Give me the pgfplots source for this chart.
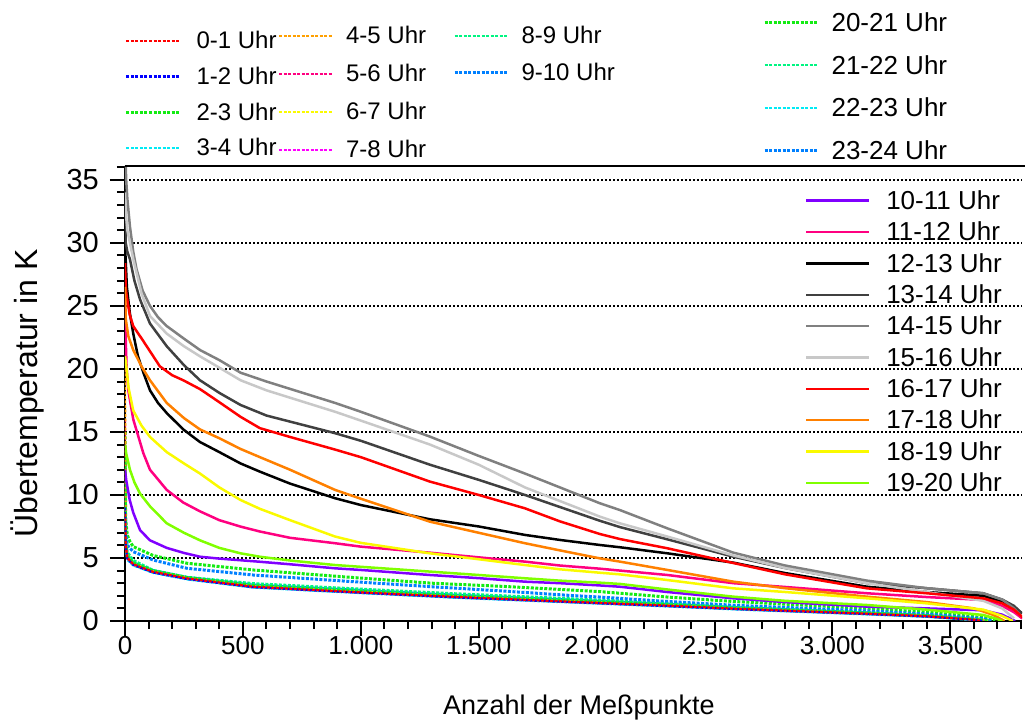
\documentclass[border=0pt]{standalone}
\usepackage{fontspec}
\setmainfont{Liberation Sans}
\usepackage{pgfplots}
\pgfplotsset{compat=1.18}
\definecolor{cRed}{RGB}{255,0,0}
\definecolor{cBlue}{RGB}{0,0,255}
\definecolor{cGreen}{RGB}{20,235,20}
\definecolor{cCyan}{RGB}{0,235,245}
\definecolor{cOrangeD}{RGB}{255,160,0}
\definecolor{cPink}{RGB}{255,0,128}
\definecolor{cYellow}{RGB}{250,250,0}
\definecolor{cMagenta}{RGB}{255,0,255}
\definecolor{cSpring}{RGB}{0,245,130}
\definecolor{cAzure}{RGB}{0,128,255}
\definecolor{cPurple}{RGB}{128,0,255}
\definecolor{cOrange}{RGB}{255,128,0}
\definecolor{cLime}{RGB}{128,255,0}
\definecolor{cGa}{RGB}{64,64,64}
\definecolor{cGb}{RGB}{128,128,128}
\definecolor{cGc}{RGB}{200,200,200}
\tikzset{
  dsh/.style={line width=2.2pt, dash pattern=on 3pt off 1.5pt},
  dshT/.style={line width=3pt, dash pattern=on 3pt off 1.5pt},
  sol/.style={line width=2.5pt}
}
\begin{document}
\begin{tikzpicture}
\path[use as bounding box] (-125pt,-101pt) rectangle (900pt,621pt);
\begin{axis}[name=main, at={(0pt,0pt)}, anchor=south west,
  scale only axis, width=897pt, height=455pt,
  xmin=0, xmax=3804, ymin=0, ymax=36.1,
  axis lines*=left, axis line style={line width=2.7pt, black},
  tick align=outside, tick pos=left,
  major tick length=15pt, minor tick length=8pt,
  tick style={line width=2pt, black},
  xtick={0,500,...,3500}, ytick={0,5,...,35},
  minor xtick={100,200,...,3800}, minor ytick={1,2,...,36},
  scaled ticks=false,
  xticklabel={\pgfmathprintnumber[assume math mode=true,1000 sep={.}]{\tick}},
  yticklabel={\pgfmathprintnumber[assume math mode=true]{\tick}},
  xticklabel style={font=\fontsize{26pt}{28pt}\selectfont, inner sep=0pt, anchor=north},
  yticklabel style={font=\fontsize{29pt}{31pt}\selectfont, inner sep=0pt, anchor=east, xshift=-11pt},
  ymajorgrids, major grid style={black, line width=1.6pt, dash pattern=on 2.2pt off 1.8pt},
  xlabel={Anzahl der Meßpunkte}, ylabel={Übertemperatur in K},
  xlabel style={font=\fontsize{27pt}{29pt}\selectfont, at={(axis description cs:0.506,-0.1912)}, anchor=center},
  ylabel style={font=\fontsize{32pt}{34pt}\selectfont, at={(axis description cs:-0.1093,0.5)}, anchor=center},
  no markers, line join=round,
  legend cell align=left,
  legend style={at={(0.7581,0.946)}, anchor=north west, draw=none, fill=none, inner sep=0pt, outer sep=0pt, row sep=11pt, font=\fontsize{26pt}{28pt}\selectfont, nodes={inner sep=0pt}},
  legend image code/.code={\draw[#1] (0pt,0pt) -- (63pt,0pt); \node[draw=none,fill=none,inner sep=0pt,minimum size=0pt] at (80pt,0pt) {};},
]
% dashed series (drawn first)
\addplot[cAzure, dshT, forget plot] coordinates {(0,10)(3,6.4)(10,5.2)(35,4.6)(119,4.0)(263,3.45)(543,2.85)(967,2.45)(1391,2.05)(1887,1.66)(2300,1.33)(2580,1.07)(3147,0.64)(3400,0.43)(3630,0.1)(3660,0)};
\addplot[cCyan, dsh, forget plot] coordinates {(0,9)(3,6)(10,5.0)(35,4.5)(119,3.88)(263,3.38)(543,2.82)(967,2.42)(1391,2.02)(1887,1.62)(2300,1.3)(2580,1.04)(3147,0.62)(3400,0.42)(3630,0.08)(3660,0)};
\addplot[cSpring, dsh, forget plot] coordinates {(0,10)(3,6.5)(10,5.5)(35,4.84)(119,4.05)(263,3.5)(543,3.0)(967,2.59)(1391,2.2)(1887,1.8)(2300,1.45)(2580,1.15)(3147,0.72)(3400,0.48)(3640,0.12)(3670,0)};
\addplot[cGreen, dshT, forget plot] coordinates {(0,15)(3,8)(10,6.8)(21,6.3)(35,5.9)(119,5.2)(263,4.58)(543,4.05)(967,3.45)(1300,3.0)(1600,2.75)(1887,2.46)(2014,2.33)(2300,1.9)(2580,1.55)(3147,1.0)(3400,0.7)(3650,0.25)(3690,0)};
\addplot[cAzure, dshT, forget plot] coordinates {(0,11)(3,7)(10,6.0)(35,5.5)(119,4.84)(263,4.18)(543,3.65)(967,3.12)(1300,2.72)(1600,2.38)(1887,2.03)(2014,1.9)(2300,1.55)(2580,1.25)(3147,0.8)(3400,0.55)(3640,0.18)(3675,0)};
\addplot[cSpring, dsh, forget plot] coordinates {(0,9.5)(3,6.3)(10,5.3)(35,4.7)(119,3.98)(263,3.45)(543,2.92)(967,2.5)(1391,2.1)(1887,1.72)(2300,1.38)(2580,1.1)(3147,0.68)(3400,0.45)(3630,0.1)(3665,0)};
\addplot[cMagenta, dsh, forget plot] coordinates {(0,14)(3,6.0)(10,4.95)(35,4.45)(119,3.86)(263,3.34)(543,2.69)(967,2.28)(1391,1.89)(1887,1.51)(2300,1.19)(2580,0.96)(3147,0.56)(3400,0.37)(3620,0.1)(3655,0)};
\addplot[cYellow, dsh, forget plot] coordinates {(0,11)(3,6.3)(10,5.1)(35,4.55)(119,3.95)(263,3.42)(543,2.76)(967,2.35)(1391,1.96)(1887,1.57)(2300,1.25)(2580,1.0)(3147,0.6)(3400,0.4)(3625,0.1)(3660,0)};
\addplot[cPink, dsh, forget plot] coordinates {(0,16)(3,6.1)(10,5.05)(35,4.5)(119,3.9)(263,3.37)(543,2.71)(967,2.3)(1391,1.91)(1887,1.52)(2300,1.21)(2580,0.97)(3147,0.57)(3400,0.37)(3615,0.08)(3645,0)};
\addplot[cOrangeD, dsh, forget plot] coordinates {(0,20)(3,6)(10,5.0)(35,4.48)(119,3.88)(263,3.36)(543,2.7)(967,2.29)(1391,1.9)(1887,1.51)(2300,1.2)(2580,0.96)(3147,0.56)(3400,0.36)(3610,0.08)(3640,0)};
\addplot[cCyan, dsh, forget plot] coordinates {(0,8)(3,5.7)(10,4.85)(35,4.4)(119,3.82)(263,3.3)(543,2.65)(967,2.24)(1391,1.85)(1887,1.47)(2300,1.15)(2580,0.92)(3147,0.52)(3400,0.33)(3600,0.06)(3625,0)};
\addplot[cGreen, dshT, forget plot] coordinates {(0,13)(3,6.2)(10,5.1)(35,4.6)(119,3.98)(263,3.45)(543,2.8)(967,2.38)(1391,1.98)(1887,1.6)(2300,1.28)(2580,1.03)(3147,0.62)(3400,0.42)(3620,0.1)(3660,0)};
\addplot[cBlue, dsh, forget plot] coordinates {(0,9)(3,5.9)(10,4.95)(35,4.45)(119,3.85)(263,3.33)(543,2.68)(967,2.27)(1391,1.88)(1887,1.5)(2300,1.18)(2580,0.95)(3147,0.55)(3400,0.35)(3610,0.08)(3640,0)};
\addplot[cRed, dsh, forget plot] coordinates {(0,8.5)(3,6.0)(10,5.0)(35,4.5)(119,3.9)(263,3.38)(543,2.72)(967,2.3)(1391,1.92)(1887,1.53)(2300,1.22)(2580,0.98)(3147,0.58)(3400,0.38)(3600,0.1)(3630,0)};
% solid series
\addplot[cPurple, sol] coordinates {(0,12)(5,11.2)(20,9.6)(35,8.6)(64,7.2)(106,6.4)(177,5.8)(250,5.4)(318,5.1)(400,4.95)(490,4.82)(572,4.7)(700,4.5)(891,4.18)(1000,4.05)(1293,3.65)(1500,3.4)(1696,3.12)(1845,3.0)(2014,2.82)(2099,2.72)(2300,2.3)(2580,1.8)(2800,1.5)(3147,1.14)(3400,1.0)(3640,0.85)(3720,0.5)(3775,0)};
\addlegendentry{10-11 Uhr}
\addplot[cPink, sol] coordinates {(0,26.5)(2,23)(7,20)(14,18.3)(35,16)(78,13.3)(106,12)(177,10.4)(247,9.4)(318,8.7)(400,8.0)(490,7.49)(572,7.1)(700,6.6)(891,6.17)(1000,5.9)(1293,5.42)(1500,5.05)(1696,4.71)(1845,4.4)(2014,4.15)(2099,4.0)(2300,3.65)(2580,3.0)(2800,2.7)(3147,2.2)(3400,1.9)(3640,1.67)(3720,1.2)(3770,0.7)(3805,0.2)};
\addlegendentry{11-12 Uhr}
\addplot[black, sol] coordinates {(0,32.5)(2,29)(8,26.5)(20,24.5)(35,22.8)(55,21)(78,19.7)(106,18.3)(140,17.3)(177,16.5)(247,15.2)(318,14.2)(400,13.4)(490,12.5)(572,11.85)(700,10.9)(891,9.74)(1000,9.2)(1293,8.07)(1500,7.5)(1696,6.83)(1845,6.43)(2014,6.03)(2099,5.85)(2300,5.37)(2580,4.63)(2800,3.8)(3147,2.72)(3400,2.3)(3640,2.0)(3720,1.5)(3770,1.1)(3804,0.6)};
\addlegendentry{12-13 Uhr}
\addplot[cGa, sol] coordinates {(0,33)(3,30)(10,29.3)(21,28.7)(40,27)(64,25.5)(106,23.6)(177,21.8)(250,20.3)(318,19.1)(400,18.1)(490,17.14)(600,16.3)(891,14.9)(1000,14.3)(1293,12.4)(1500,11.2)(1696,10.0)(2014,7.95)(2099,7.45)(2300,6.48)(2580,5.1)(2800,4.2)(3147,3.0)(3400,2.6)(3640,2.2)(3720,1.7)(3770,1.2)(3804,0.6)};
\addlegendentry{13-14 Uhr}
\addplot[cGb, sol] coordinates {(0,38)(5,35)(10,33.5)(21,31.3)(35,29.3)(49,27.9)(75,26.2)(106,25)(140,24.1)(177,23.4)(250,22.4)(318,21.5)(400,20.7)(490,19.7)(600,19.0)(891,17.3)(1000,16.6)(1293,14.63)(1500,13.1)(1696,11.7)(2014,9.34)(2099,8.8)(2300,7.35)(2580,5.42)(2800,4.4)(3147,3.2)(3400,2.6)(3640,2.2)(3720,1.7)(3770,1.0)(3795,0.5)};
\addlegendentry{14-15 Uhr}
\addplot[cGc, sol] coordinates {(0,34)(3,32.5)(10,31)(35,28.7)(70,26)(106,24.2)(177,22.8)(250,21.8)(318,21)(400,20.1)(490,19.1)(600,18.3)(891,16.6)(1000,15.9)(1293,14.0)(1500,12.4)(1696,10.6)(2014,8.28)(2099,7.75)(2300,6.7)(2580,5.2)(2800,4.2)(3147,3.0)(3400,2.3)(3640,1.6)(3720,1.0)(3770,0.2)};
\addlegendentry{15-16 Uhr}
\addplot[cRed, sol] coordinates {(0,28.4)(3,26.5)(7,25.8)(20,24.3)(35,23.4)(78,22.2)(148,20.2)(200,19.5)(247,19.1)(318,18.4)(389,17.5)(490,16.2)(572,15.3)(700,14.6)(891,13.6)(1000,13.0)(1293,11.06)(1500,10.0)(1696,8.94)(1845,7.9)(2014,6.9)(2099,6.5)(2300,5.77)(2580,4.6)(2800,3.7)(3147,2.59)(3400,2.2)(3640,1.8)(3720,1.4)(3770,0.9)(3806,0.3)};
\addlegendentry{16-17 Uhr}
\addplot[cOrange, sol] coordinates {(0,26.5)(3,24)(14,22.6)(35,21.5)(70,20.2)(106,19.1)(177,17.3)(250,16.1)(318,15.2)(400,14.5)(490,13.65)(572,13.0)(700,12.0)(891,10.4)(1000,9.7)(1293,7.88)(1500,7.0)(1696,6.17)(1845,5.6)(2014,4.97)(2099,4.71)(2300,4.05)(2580,3.12)(2800,2.6)(3147,1.93)(3400,1.5)(3600,1.0)(3680,0.5)(3730,0)};
\addlegendentry{17-18 Uhr}
\addplot[cYellow, sol] coordinates {(0,21)(5,20.3)(15,18.5)(35,16.7)(70,15.5)(106,14.6)(177,13.4)(250,12.5)(318,11.7)(400,10.6)(490,9.6)(572,8.9)(700,8.0)(891,6.7)(1000,6.2)(1293,5.37)(1500,4.9)(1696,4.44)(1845,4.1)(2014,3.83)(2099,3.7)(2300,3.25)(2580,2.59)(2800,2.3)(3147,1.8)(3400,1.4)(3640,0.9)(3720,0.4)(3765,0)};
\addlegendentry{18-19 Uhr}
\addplot[cLime, sol] coordinates {(0,14)(5,13.3)(21,12)(40,11)(64,10.1)(106,9.1)(177,7.75)(250,7.0)(318,6.4)(400,5.8)(490,5.37)(572,5.1)(700,4.8)(891,4.44)(1000,4.3)(1293,3.92)(1500,3.65)(1696,3.39)(1845,3.2)(2014,3.04)(2099,2.94)(2300,2.5)(2580,1.93)(2800,1.6)(3147,1.27)(3400,0.9)(3640,0.48)(3700,0.15)(3720,0)};
\addlegendentry{19-20 Uhr}
\end{axis}
\draw[line width=2.7pt] (main.north west) -- ([xshift=3pt]main.north east);
% top legend, column 1
\begin{axis}[at={(0pt,0pt)}, anchor=south west, scale only axis, width=897pt, height=455pt,
  hide axis, xmin=0, xmax=1, ymin=0, ymax=1, legend cell align=left,
  legend style={at={(0,1.2962)}, anchor=north west, draw=none, fill=none, inner sep=0pt, outer sep=0pt, row sep=16.9pt, font=\fontsize{24pt}{26pt}\selectfont, nodes={inner sep=0pt}},
  legend image code/.code={\draw[#1] (0pt,0pt) -- (53pt,0pt); \node[draw=none,fill=none,inner sep=0pt,minimum size=0pt] at (70pt,0pt) {};}]
\addlegendimage{cRed, dsh}\addlegendentry{0-1 Uhr}
\addlegendimage{cBlue, dsh}\addlegendentry{1-2 Uhr}
\addlegendimage{cGreen, dshT}\addlegendentry{2-3 Uhr}
\addlegendimage{cCyan, dsh}\addlegendentry{3-4 Uhr}
\end{axis}
% column 2
\begin{axis}[at={(0pt,0pt)}, anchor=south west, scale only axis, width=897pt, height=455pt,
  hide axis, xmin=0, xmax=1, ymin=0, ymax=1, legend cell align=left,
  legend style={at={(0.1706,1.3071)}, anchor=north west, draw=none, fill=none, inner sep=0pt, outer sep=0pt, row sep=19.2pt, font=\fontsize{24pt}{26pt}\selectfont, nodes={inner sep=0pt}},
  legend image code/.code={\draw[#1] (0pt,0pt) -- (53pt,0pt); \node[draw=none,fill=none,inner sep=0pt,minimum size=0pt] at (67pt,0pt) {};}]
\addlegendimage{cOrangeD, dsh}\addlegendentry{4-5 Uhr}
\addlegendimage{cPink, dsh}\addlegendentry{5-6 Uhr}
\addlegendimage{cYellow, dsh}\addlegendentry{6-7 Uhr}
\addlegendimage{cMagenta, dsh}\addlegendentry{7-8 Uhr}
\end{axis}
% column 3
\begin{axis}[at={(0pt,0pt)}, anchor=south west, scale only axis, width=897pt, height=455pt,
  hide axis, xmin=0, xmax=1, ymin=0, ymax=1, legend cell align=left,
  legend style={at={(0.3657,1.3071)}, anchor=north west, draw=none, fill=none, inner sep=0pt, outer sep=0pt, row sep=17.5pt, font=\fontsize{24pt}{26pt}\selectfont, nodes={inner sep=0pt}},
  legend image code/.code={\draw[#1] (0pt,0pt) -- (53pt,0pt); \node[draw=none,fill=none,inner sep=0pt,minimum size=0pt] at (67pt,0pt) {};}]
\addlegendimage{cSpring, dsh}\addlegendentry{8-9 Uhr}
\addlegendimage{cAzure, dshT}\addlegendentry{9-10 Uhr}
\end{axis}
% column 4
\begin{axis}[at={(0pt,0pt)}, anchor=south west, scale only axis, width=897pt, height=455pt,
  hide axis, xmin=0, xmax=1, ymin=0, ymax=1, legend cell align=left,
  legend style={at={(0.7113,1.3374)}, anchor=north west, draw=none, fill=none, inner sep=0pt, outer sep=0pt, row sep=22.4pt, font=\fontsize{26pt}{28pt}\selectfont, nodes={inner sep=0pt}},
  legend image code/.code={\draw[#1] (0pt,0pt) -- (53pt,0pt); \node[draw=none,fill=none,inner sep=0pt,minimum size=0pt] at (67pt,0pt) {};}]
\addlegendimage{cGreen, dshT}\addlegendentry{20-21 Uhr}
\addlegendimage{cSpring, dsh}\addlegendentry{21-22 Uhr}
\addlegendimage{cCyan, dsh}\addlegendentry{22-23 Uhr}
\addlegendimage{cAzure, dshT}\addlegendentry{23-24 Uhr}
\end{axis}
\end{tikzpicture}
\end{document}
